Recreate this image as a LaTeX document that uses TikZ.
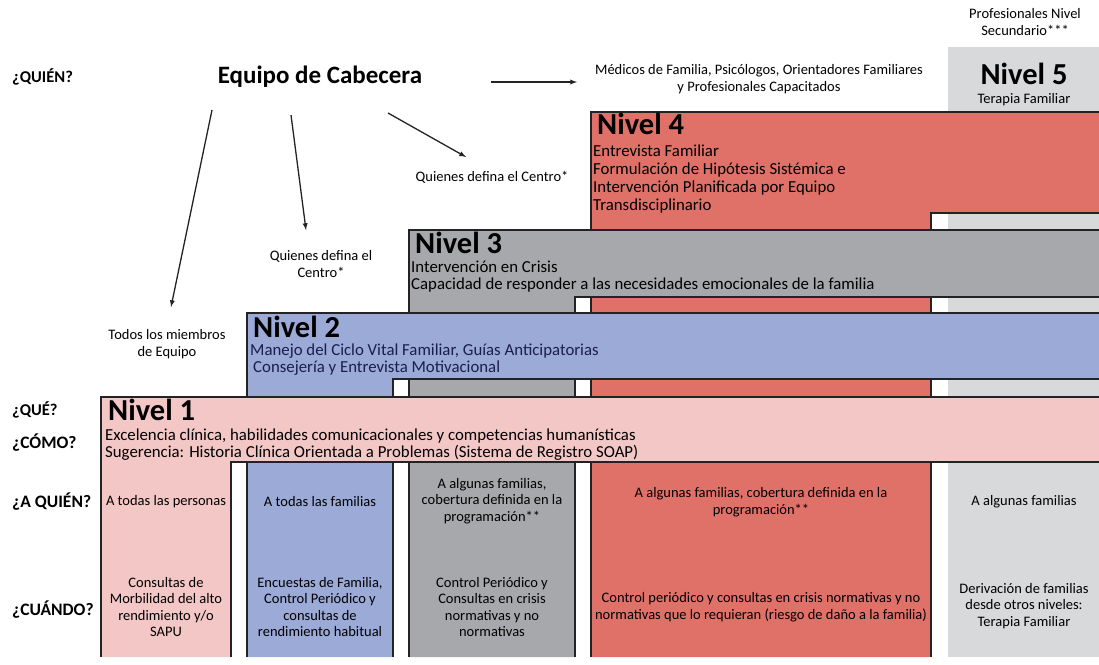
\documentclass[tikz,border=0pt]{standalone}
\usepackage{fontspec}
\setmainfont{Carlito}
\definecolor{nivuno}{RGB}{243,199,197}
\definecolor{nivdos}{RGB}{156,170,216}
\definecolor{nivtres}{RGB}{167,168,171}
\definecolor{nivcuatro}{RGB}{223,113,104}
\definecolor{nivcinco}{RGB}{216,217,219}
\definecolor{lineaosc}{RGB}{35,35,38}
\definecolor{azultexto}{RGB}{25,30,80}

\begin{document}
\begin{tikzpicture}[x=1pt,y=-1pt,
    contorno/.style={draw=lineaosc, line width=1.3pt},
    nivel/.style={font=\bfseries\fontsize{30.5}{31}\selectfont, inner sep=0pt, anchor=west},
    cuerpo/.style={font=\fontsize{16.8}{17}\selectfont, inner sep=0pt, anchor=west, align=left},
    celda/.style={font=\fontsize{14.5}{16.5}\selectfont, inner sep=0pt, align=center},
    nota/.style={font=\fontsize{14.5}{16.5}\selectfont, inner sep=0pt, align=center},
    pregunta/.style={font=\bfseries\fontsize{16.5}{18}\selectfont, inner sep=0pt, anchor=west},
    preguntag/.style={font=\bfseries\fontsize{17.5}{19}\selectfont, inner sep=0pt, anchor=west},
    flecha/.style={-latex, line width=1.3pt, draw=lineaosc}]
\useasboundingbox (0,0) rectangle (1099,664);

% niveles, de atras hacia adelante
\fill[nivcinco] (948,47) rectangle (1099,657);

\fill[nivcuatro] (591,112) -- (1099,112) -- (1099,213) -- (931,213) -- (931,657) -- (591,657) -- cycle;
\draw[contorno] (591,657) -- (591,112) -- (1099,112) (1099,213) -- (931,213) -- (931,657);

\fill[nivtres] (409,230) -- (1099,230) -- (1099,297) -- (575,297) -- (575,657) -- (409,657) -- cycle;
\draw[contorno] (409,657) -- (409,230) -- (1099,230) (1099,297) -- (575,297) -- (575,657);

\fill[nivdos] (247,313) -- (1099,313) -- (1099,379) -- (393,379) -- (393,657) -- (247,657) -- cycle;
\draw[contorno] (247,657) -- (247,313) -- (1099,313) (1099,379) -- (393,379) -- (393,657);

\fill[nivuno] (101,397) -- (1099,397) -- (1099,462) -- (231,462) -- (231,657) -- (101,657) -- cycle;
\draw[contorno] (101,657) -- (101,397) -- (1099,397) (1099,462) -- (231,462) -- (231,657);

% preguntas
\node[pregunta] (pquien) at (12,77) {¿QUIÉN?};
\node[pregunta] (pque) at (12,410) {¿QUÉ?};
\node[preguntag] (pcomo) at (12,443) {¿CÓMO?};
\node[preguntag] (paquien) at (12,502) {¿A QUIÉN?};
\node[preguntag] (pcuando) at (12,610) {¿CUÁNDO?};

% quien
\node[font=\bfseries\fontsize{25}{28}\selectfont, inner sep=0pt] (equipo) at (320,77) {Equipo de Cabecera};
\node[nota] (medicos) at (759,79) {Médicos de Familia, Psicólogos, Orientadores Familiares\\y Profesionales Capacitados};
\node[nota] (profes) at (1025,22) {Profesionales Nivel\\Secundario***};
\node[nota] (todos) at (167,344) {Todos los miembros\\de Equipo};
\node[nota] (quienesa) at (321,264) {Quienes defina el\\Centro*};
\node[nota] (quienesb) at (492,177) {Quienes defina el Centro*};

\coordinate (sa) at (212,110); \coordinate (ea) at (171,307);
\coordinate (sb) at (291,115); \coordinate (eb) at (306,230);
\coordinate (sc) at (388,113); \coordinate (ec) at (466,157);
\coordinate (sd) at (491,82);  \coordinate (ed) at (577,82);
\draw[flecha] (sa) -- (ea);
\draw[flecha] (sb) -- (eb);
\draw[flecha] (sc) -- (ec);
\draw[flecha] (sd) -- (ed);

% titulos de nivel
\node[nivel, anchor=center] (n5) at (1024,74) {Nivel 5};
\node[celda] (n5t) at (1024,100) {Terapia Familiar};

\node[nivel] (n4) at (597,124) {Nivel 4};
\node[cuerpo, font=\fontsize{16.8}{18.2}\selectfont] (n4t) at (593,179) {Entrevista Familiar\\Formulación de Hipótesis Sistémica e\\Intervención Planificada por Equipo\\Transdisciplinario};

\node[nivel] (n3) at (415,243) {Nivel 3};
\node[cuerpo] (n3t) at (411,277) {Intervención en Crisis\\Capacidad de responder a las necesidades emocionales de la familia};

\node[nivel] (n2) at (253,327) {Nivel 2};
\node[cuerpo, text=azultexto] (n2t) at (250,360) {Manejo del Ciclo Vital Familiar, Guías Anticipatorias\\\hspace*{3pt}Consejería y Entrevista Motivacional};

\node[nivel] (n1) at (108,410) {Nivel 1};
\node[cuerpo] (n1t) at (105,445) {Excelencia clínica, habilidades comunicacionales y competencias humanísticas\\Sugerencia: Historia Clínica Orientada a Problemas (Sistema de Registro SOAP)};

% celdas a quien / cuando
\node[celda] (cunoa) at (166,502) {A todas las personas};
\node[celda] (cunob) at (166,607) {Consultas de\\Morbilidad del alto\\rendimiento y/o\\SAPU};
\node[celda] (cdosa) at (320,502) {A todas las familias};
\node[celda] (cdosb) at (320,607) {Encuestas de Familia,\\Control Periódico y\\consultas de\\rendimiento habitual};
\node[celda] (ctresa) at (492,501) {A algunas familias,\\cobertura definida en la\\programación**};
\node[celda] (ctresb) at (492,607) {Control Periódico y\\Consultas en crisis\\normativas y no\\normativas};
\node[celda] (ccuatroa) at (761,502) {A algunas familias, cobertura definida en la\\programación**};
\node[celda] (ccuatrob) at (761,607) {Control periódico y consultas en crisis normativas y no\\normativas que lo requieran (riesgo de daño a la familia)};
\node[celda] (ccincoa) at (1024,502) {A algunas familias};
\node[celda] (ccincob) at (1024,606) {Derivación de familias\\desde otros niveles:\\Terapia Familiar};
\end{tikzpicture}
\end{document}
